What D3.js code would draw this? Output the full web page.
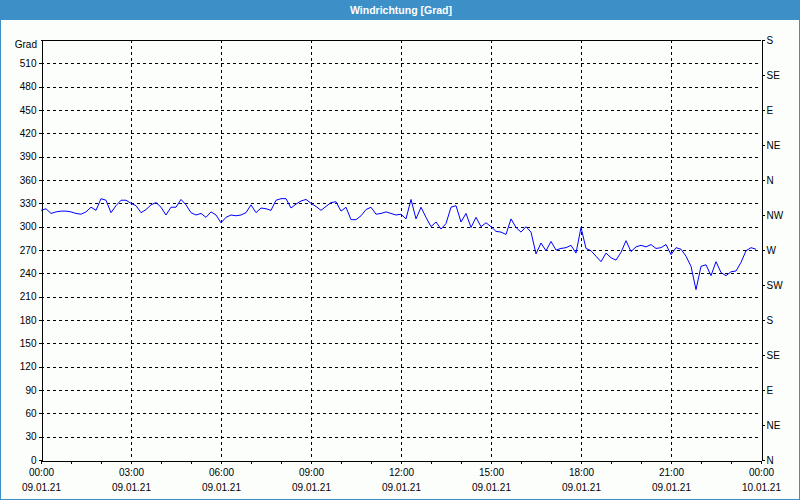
<!DOCTYPE html>
<html><head><meta charset="utf-8">
<script src="https://cdn.jsdelivr.net/npm/d3@7"></script>
<style>
html,body{margin:0;padding:0;background:#fcfefc;}
svg{display:block;}
text{font-family:"Liberation Sans",Arial,sans-serif;}
</style></head>
<body>
<script>
// ---- data ----
const title = "Windrichtung [Grad]";
const yUnit = "Grad";
const timeTickMinutes = [0,180,360,540,720,900,1080,1260,1440];
const timeTickLabels = ["00:00","03:00","06:00","09:00","12:00","15:00","18:00","21:00","00:00"];
const dateTickLabels = ["09.01.21","09.01.21","09.01.21","09.01.21","09.01.21","09.01.21","09.01.21","09.01.21","10.01.21"];
const yTicks = [0,30,60,90,120,150,180,210,240,270,300,330,360,390,420,450,480,510];
const compassValues = [0,45,90,135,180,225,270,315,360,405,450,495,540];
const compassLabels = ["N","NE","E","SE","S","SW","W","NW","N","NE","E","SE","S"];
// one sample every 10 minutes from 00:00 to 23:50
const sampleStepMinutes = 10;
const windDir = [
321,323,317,319,320,320,319,317,316,319,325,321,336,334,318,327,334,334,330,327,318,322,328,331,325,315,325,325,335,328,318,315,317,312,319,315,
305,312,315,314,315,318,328,318,324,323,321,334,336,336,324,329,333,335,330,326,321,326,331,332,320,325,309,309,314,322,325,316,317,319,317,315,
316,310,335,310,325,312,300,306,297,304,325,327,306,317,299,312,300,305,300,294,293,290,310,299,293,300,293,265,279,269,281,270,272,273,276,266,
299,272,269,262,255,266,260,257,267,282,268,274,276,274,277,272,273,277,264,273,271,262,249,219,249,251,237,255,241,237,242,243,254,269,273,271
];

(function(){
// ---- layout ----
const W = 800, H = 500;
const pL = 41, pR = 761, pT = 40, pB = 460;
const blue = "#3c8fc7";

const svg = d3.select("body").append("svg").attr("width", W).attr("height", H);
svg.append("rect").attr("x",0).attr("y",0).attr("width",W).attr("height",H).attr("fill","#fcfefc");
svg.append("rect").attr("x",0).attr("y",0).attr("width",W).attr("height",20).attr("fill",blue);
svg.append("rect").attr("x",0.5).attr("y",0.5).attr("width",W-1).attr("height",H-1)
  .attr("fill","none").attr("stroke",blue).attr("stroke-width",1);
svg.append("text").attr("x",401).attr("y",14).attr("text-anchor","middle")
  .attr("fill","#fff").attr("font-weight","bold").attr("font-size","10.5px").text(title);

const x = d3.scaleLinear().domain([0,1440]).range([pL,pR]);
const y = d3.scaleLinear().domain([0,540]).range([pB,pT]);

// grid
const grid = svg.append("g").attr("stroke","#000").attr("stroke-dasharray","3,3").attr("shape-rendering","crispEdges");
grid.selectAll("line.h").data(yTicks.filter(d=>d>0)).join("line").attr("class","h")
  .attr("x1",pL).attr("x2",pR).attr("y1",d=>Math.round(y(d))+0.5).attr("y2",d=>Math.round(y(d))+0.5);
grid.selectAll("line.v").data(timeTickMinutes.filter(d=>d>0&&d<1440)).join("line").attr("class","v")
  .attr("y1",pT).attr("y2",pB).attr("x1",d=>Math.round(x(d))+0.5).attr("x2",d=>Math.round(x(d))+0.5);

// top frame line
svg.append("line").attr("x1",pL).attr("x2",pR).attr("y1",pT+0.5).attr("y2",pT+0.5)
  .attr("stroke","#000").attr("shape-rendering","crispEdges");

// left axis
const yAxis = d3.axisLeft(y).tickValues(yTicks).tickSize(3).tickSizeOuter(0).tickPadding(2);
const gy = svg.append("g").attr("transform",`translate(${pL+0.5},0)`).call(yAxis);
gy.selectAll("text").attr("font-size","10px").attr("fill","#000");
gy.selectAll("line,path").attr("stroke","#000").attr("shape-rendering","crispEdges");
svg.append("text").attr("x",37).attr("y",48).attr("text-anchor","end").attr("font-size","10px").attr("fill","#000").text(yUnit);

// right compass axis
const cAxis = d3.axisRight(y).tickValues(compassValues).tickFormat((d,i)=>compassLabels[i]).tickSize(3).tickSizeOuter(0).tickPadding(2);
const gc = svg.append("g").attr("transform",`translate(${pR+0.5},0)`).call(cAxis);
gc.selectAll("text").attr("font-size","10px").attr("fill","#000");
gc.selectAll("line,path").attr("stroke","#000").attr("shape-rendering","crispEdges");

// bottom axis: hourly minor ticks
const hours = d3.range(0,1441,60);
const xMinor = d3.axisBottom(x).tickValues(hours).tickFormat("").tickSize(3).tickSizeOuter(0);
const gxm = svg.append("g").attr("transform",`translate(0,${pB+0.5})`).call(xMinor);
gxm.selectAll("line,path").attr("stroke","#000").attr("shape-rendering","crispEdges");

const xAxisT = d3.axisBottom(x).tickValues(timeTickMinutes).tickFormat((d,i)=>timeTickLabels[i]).tickSize(0).tickPadding(9);
const gxt = svg.append("g").attr("transform",`translate(0,${pB})`).call(xAxisT);
gxt.select("path").remove();
gxt.selectAll("text").attr("font-size","10px").attr("fill","#000");

const xAxisD = d3.axisBottom(x).tickValues(timeTickMinutes).tickFormat((d,i)=>dateTickLabels[i]).tickSize(0).tickPadding(24);
const gxd = svg.append("g").attr("transform",`translate(0,${pB})`).call(xAxisD);
gxd.select("path").remove();
gxd.selectAll("text").attr("font-size","10px").attr("fill","#000");

// line
const line = d3.line().x((d,i)=>x(i*sampleStepMinutes)).y(d=>y(d));
svg.append("path").datum(windDir).attr("d",line).attr("fill","none").attr("stroke","#0000ff").attr("stroke-width",1);
})();
</script>
</body></html>
